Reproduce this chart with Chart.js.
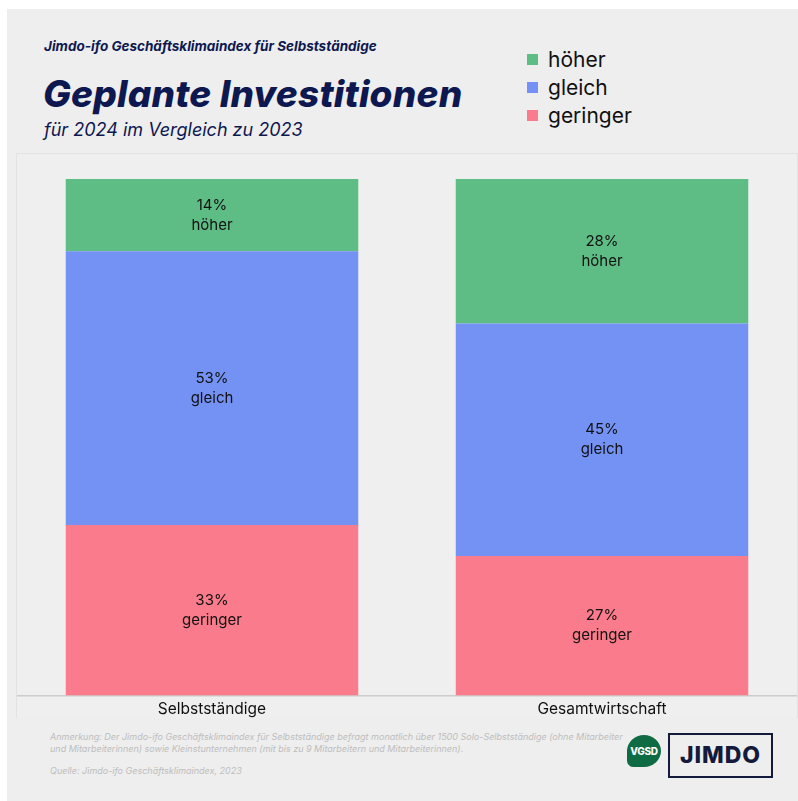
<!DOCTYPE html>
<html>
<head>
<meta charset="utf-8">
<script src="https://cdn.jsdelivr.net/npm/chart.js@4"></script>
<style>
  body { margin: 0; background: #fff; font-family: "Inter", sans-serif; }
  .panel { position: absolute; left: 7px; top: 9px; width: 791px; height: 792px; background: #eeeeee; }
  .kicker { position: absolute; left: 44px; top: 38px; font-size: 13.5px; font-weight: 700; font-style: italic; color: #0e1850; }
  .title { position: absolute; left: 43px; top: 71px; font-size: 37px; font-weight: 800; font-style: italic; color: #0e1850; letter-spacing: 0.2px; }
  .sub { position: absolute; left: 44px; top: 119px; font-size: 18px; font-style: italic; color: #0e1850; }
  #legend { position: absolute; left: 527px; top: 45px; }
  .li { height: 28px; display: flex; align-items: center; font-size: 21px; color: #111; }
  .sw { width: 11px; height: 11px; margin-right: 10px; }
  .box { position: absolute; left: 16px; top: 153px; width: 780px; height: 564px; background: #efefef;
         border-top: 1px solid #e2e2e2; border-left: 1px solid #e2e2e2; border-right: 1px solid #e2e2e2; }
  #c { position: absolute; left: 0; top: 0; }
  .note { position: absolute; left: 50px; top: 731px; width: 580px; font-size: 9px; font-style: italic; color: #bdbdbd; line-height: 12px; }
  .src { position: absolute; left: 50px; top: 765px; font-size: 9px; font-style: italic; color: #bdbdbd; }
  .vgsd { position: absolute; left: 627px; top: 735px; width: 34px; height: 32px; background: #0f6b44; border-radius: 50% 50% 50% 20%;
          color: #fff; font-size: 10px; font-weight: 800; text-align: center; line-height: 32px; letter-spacing: -0.3px; }
  .jimdo { position: absolute; left: 668px; top: 733px; width: 101px; height: 41px; border: 2px solid #141a3c;
           font-size: 23px; font-weight: 800; color: #141a3c; text-align: center; line-height: 41px; letter-spacing: 1px; }
</style>
</head>
<body>
<div class="panel"></div>
<div class="kicker">Jimdo-ifo Geschäftsklimaindex für Selbstständige</div>
<div class="title">Geplante Investitionen</div>
<div class="sub">für 2024 im Vergleich zu 2023</div>
<div id="legend"></div>
<div class="box"><canvas id="c" width="780" height="570"></canvas></div>
<div class="note">Anmerkung: Der Jimdo-ifo Geschäftsklimaindex für Selbstständige befragt monatlich über 1500 Solo-Selbstständige (ohne Mitarbeiter und Mitarbeiterinnen) sowie Kleinstunternehmen (mit bis zu 9 Mitarbeitern und Mitarbeiterinnen).</div>
<div class="src">Quelle: Jimdo-ifo Geschäftsklimaindex, 2023</div>
<div class="vgsd">VGSD</div>
<div class="jimdo">JIMDO</div>
<script>
const categories = ['Selbstständige', 'Gesamtwirtschaft'];
const geringer = [33, 27];
const gleich = [53, 45];
const hoeher = [14, 28];
const seriesNames = ['geringer', 'gleich', 'höher'];
const seriesColors = ['#fa7b8b', '#7392f4', '#5ebc85'];

// legend, top to bottom: höher, gleich, geringer
const legend = document.getElementById('legend');
[2, 1, 0].forEach(i => {
    const row = document.createElement('div');
    row.className = 'li';
    row.innerHTML = '<span class="sw" style="background:' + seriesColors[i] + '"></span>' + seriesNames[i];
    legend.appendChild(row);
});

// label in the middle of each segment: "14%" + series name
const segLabels = {
    id: 'segLabels',
    afterDatasetsDraw(chart) {
        const ctx = chart.ctx;
        ctx.save();
        ctx.font = '15px Inter, sans-serif';
        ctx.fillStyle = '#111';
        ctx.textAlign = 'center';
        ctx.textBaseline = 'middle';
        chart.data.datasets.forEach((ds, di) => {
            chart.getDatasetMeta(di).data.forEach((bar, i) => {
                const mid = (bar.y + bar.base) / 2;
                ctx.fillText(ds.data[i] + '%', bar.x, mid - 10);
                ctx.fillText(ds.label, bar.x, mid + 10);
            });
        });
        ctx.restore();
    }
};

const values = [geringer, gleich, hoeher];
new Chart(document.getElementById('c'), {
    type: 'bar',
    data: {
        labels: categories,
        datasets: seriesNames.map((name, i) => ({
            label: name,
            data: values[i],
            backgroundColor: seriesColors[i],
            barPercentage: 0.75,
            categoryPercentage: 1
        }))
    },
    options: {
        responsive: false,
        animation: false,
        layout: { padding: { top: 25, left: 0, right: 0, bottom: 0 } },
        plugins: { legend: { display: false }, tooltip: { enabled: false } },
        scales: {
            x: {
                stacked: true,
                grid: { display: false, drawTicks: false },
                border: { display: true, color: '#cccccc', width: 1.5 },
                ticks: { color: '#111', font: { size: 15.5, family: 'Inter' }, padding: 5 }
            },
            y: { stacked: true, display: false, min: 0, max: 100 }
        }
    },
    plugins: [segLabels]
});
</script>
</body>
</html>
